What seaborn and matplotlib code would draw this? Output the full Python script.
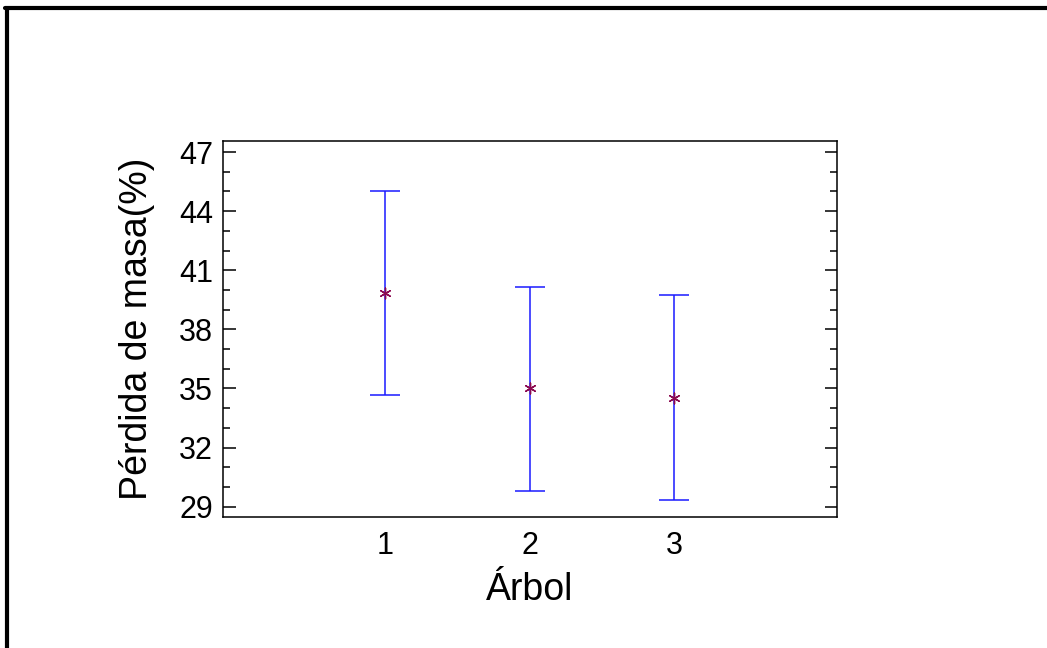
import numpy as np
import pandas as pd
import matplotlib
matplotlib.use("Agg")
import matplotlib.pyplot as plt
from matplotlib.lines import Line2D
from matplotlib.ticker import MultipleLocator
import seaborn as sns

# medias y limites de los intervalos
arboles = [1, 2, 3]
medias = [39.83, 35.04, 34.53]
lim_inf = [34.66, 29.79, 29.34]
lim_sup = [45.04, 40.16, 39.73]
yticks = [29, 32, 35, 38, 41, 44, 47]

df = pd.DataFrame({"Árbol": arboles, "media": medias, "inf": lim_inf, "sup": lim_sup})

sns.set_theme(style="ticks")
plt.rcParams["font.family"] = ["Liberation Sans", "DejaVu Sans"]
plt.rcParams["text.color"] = "black"
plt.rcParams["axes.labelcolor"] = "black"
plt.rcParams["xtick.color"] = "black"
plt.rcParams["ytick.color"] = "black"

fig = plt.figure(figsize=(10.47, 6.48), dpi=100)
ax = fig.add_axes([0.2127, 0.2017, 0.5864, 0.5807])

# intervalos
yerr = np.vstack([df["media"] - df["inf"], df["sup"] - df["media"]])
ax.errorbar(df["Árbol"], df["media"], yerr=yerr, fmt="none", ecolor="#1a1aff",
            elinewidth=1.1, capsize=11, capthick=1.1, zorder=2)
# medias
sns.scatterplot(data=df, x="Árbol", y="media", ax=ax, marker=(6, 2, 0), s=60,
                color="#8b0a50", linewidth=1.0, edgecolor="#8b0a50", zorder=3)

ax.set_xlim(-0.125, 4.125)
ax.set_ylim(28.46, 47.56)
ax.set_xticks(arboles)
ax.set_xticklabels([str(a) for a in arboles])
ax.set_yticks(yticks)
ax.yaxis.set_minor_locator(MultipleLocator(1))

ax.tick_params(axis="x", length=0, pad=10, labelsize=22)
ax.tick_params(axis="y", which="major", direction="in", length=9, width=1.1,
               left=True, right=True, labelsize=22, pad=7)
ax.tick_params(axis="y", which="minor", direction="in", length=5, width=1.1,
               left=True, right=True)

for s in ax.spines.values():
    s.set_visible(True)
    s.set_linewidth(1.1)
    s.set_color("black")

ax.set_xlabel("Árbol", fontsize=27)
ax.set_ylabel("Pérdida de masa(%)", fontsize=27)
ax.xaxis.set_label_coords(0.5, -0.193)
ax.yaxis.set_label_coords(-0.14, 0.5)
ax.xaxis.label.set_va("center")
ax.yaxis.label.set_va("center")

# marco exterior (izquierda y arriba)
fig.add_artist(Line2D([7 / 1047, 7 / 1047], [0, 1 - 8 / 648], color="black",
                      linewidth=3, transform=fig.transFigure))
fig.add_artist(Line2D([5 / 1047, 1], [1 - 8 / 648, 1 - 8 / 648], color="black",
                      linewidth=3, transform=fig.transFigure))

fig.savefig("out.png", dpi=100, facecolor="white")
